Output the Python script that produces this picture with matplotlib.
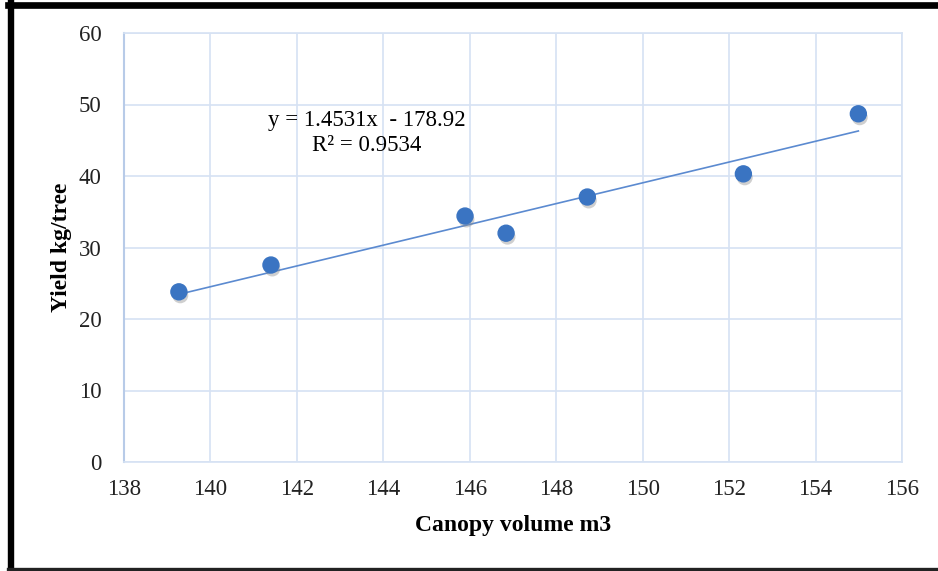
import numpy as np
import matplotlib
matplotlib.use('Agg')
import matplotlib.pyplot as plt
import matplotlib.patheffects as pe
from matplotlib.lines import Line2D

# data
canopy = [139.27, 141.40, 145.89, 146.84, 148.72, 152.33, 154.99]
yield_kg = [23.8, 27.55, 34.4, 32.0, 37.06, 40.3, 48.7]
slope = 1.4531
intercept = -178.92
r2 = 0.9534
xticks = [138, 140, 142, 144, 146, 148, 150, 152, 154, 156]
yticks = [0, 10, 20, 30, 40, 50, 60]

plt.rcParams['font.family'] = ['Liberation Serif', 'DejaVu Serif']

fig = plt.figure(figsize=(9.38, 5.71), dpi=100)
ax = fig.add_axes([124/938, (571-462)/571, (902-124)/938, (462-33)/571])

grid_c = '#d6e2f3'
ax.set_xlim(138, 156)
ax.set_ylim(0, 60)
ax.set_xticks(xticks)
ax.set_yticks(yticks)
ax.grid(True, color=grid_c, lw=1.2)
ax.set_axisbelow(True)
for s in ['top', 'right', 'bottom']:
    ax.spines[s].set_color(grid_c)
    ax.spines[s].set_linewidth(1.2)
ax.spines['left'].set_color('#b8cbe8')
ax.spines['left'].set_linewidth(1.5)
ax.tick_params(length=0, labelsize=16.5, colors='#222222')
ax.tick_params(axis='y', pad=16)
ax.tick_params(axis='x', pad=12)

# trend line
xs = np.array([min(canopy), max(canopy)])
ax.plot(xs, slope*xs + intercept, color='#5b8ad0', lw=1.2, zorder=2)

# points with shadow
ax.plot(canopy, yield_kg, 'o', ms=11.5, color='#3a74c2', mec='#3a74c2', zorder=3,
        path_effects=[pe.SimplePatchShadow(offset=(1, -2.5), shadow_rgbFace='#888888', alpha=0.4),
                      pe.Normal()])

ax.text(143.62, 47.8, 'y = 1.4531x  - 178.92', ha='center', va='center', fontsize=16.5)
ax.text(143.62, 44.3, 'R² = %.4f' % r2, ha='center', va='center', fontsize=16.5)

ax.set_xlabel('Canopy volume m3', fontsize=17, fontweight='bold')
ax.set_ylabel('Yield kg/tree', fontsize=17, fontweight='bold')
ax.xaxis.set_label_coords(0.5, -0.147)
ax.yaxis.set_label_coords(-0.0797, 0.5)
ax.xaxis.label.set_va('center')
ax.yaxis.label.set_va('center')

# black frame around figure
fig.add_artist(Line2D([8/938, 1], [1-5/571, 1-5/571], color='black', lw=4.8))
fig.add_artist(Line2D([11/938, 11/938], [1-2/571, 0], color='black', lw=4.6))
fig.add_artist(Line2D([8/938, 1], [2/571, 2/571], color='#222222', lw=2.4))

fig.savefig('out.png', dpi=100)
